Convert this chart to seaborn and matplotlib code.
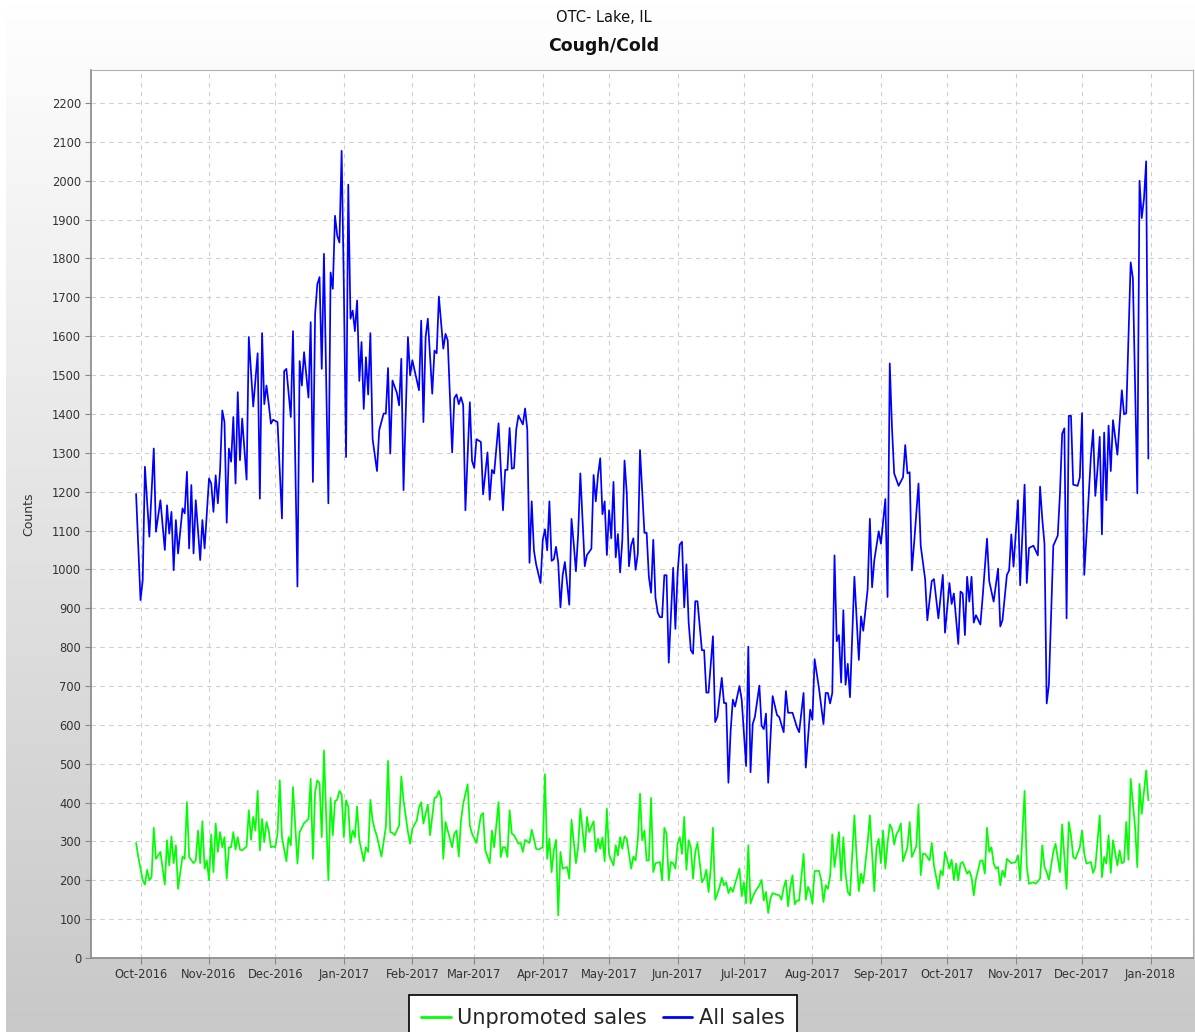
import numpy as np
import pandas as pd
import seaborn as sns
import matplotlib.pyplot as plt
import matplotlib.dates as mdates
from matplotlib.colors import LinearSegmentedColormap

# day offsets from 2016-10-01 and counts
start = pd.Timestamp('2016-10-01')

all_days = [-2, 0, 1, 2, 4, 6, 7, 9, 11, 12, 13, 14, 15, 16, 17, 19, 20, 21, 22, 23,
            24, 25, 27, 28, 29, 31, 32, 33, 34, 35, 36, 37, 38, 39, 40, 41, 42, 43, 44, 45,
            46, 48, 49, 51, 53, 54, 55, 56, 57, 58, 59, 60, 62, 64, 65, 66, 68, 69, 71, 72,
            73, 74, 76, 77, 78, 79, 80, 81, 82, 83, 85, 86, 87, 88, 89, 90, 91, 92, 93, 94,
            95, 96, 97, 98, 99, 100, 101, 102, 103, 104, 105, 107, 108, 110, 111, 112, 113, 114, 116, 117,
            118, 119, 121, 122, 123, 126, 127, 128, 129, 130, 132, 133, 134, 135, 137, 138, 139,
            141, 142, 143, 144, 145, 146, 147, 149, 150, 151, 152, 154, 155, 157, 158, 159, 160, 162, 163, 164,
            165, 166, 167, 168, 169, 170, 171, 173, 174, 175, 176, 177, 178, 179, 181, 182, 183, 184, 185, 186,
            187, 188, 189, 190, 191, 192, 193, 194, 195, 196, 197, 198, 199, 200, 201, 202, 204, 205, 206, 207,
            208, 209, 210, 211, 212, 213, 214, 215, 216, 217, 218, 219, 220, 221, 222, 223, 224, 225, 226, 228,
            229, 230, 231, 232, 233, 234, 235, 236, 237, 238, 239, 241, 242, 243, 244, 245, 246, 247, 248, 249,
            250, 251, 252, 254, 255, 256, 257, 259, 260, 261, 263, 264, 265, 266, 267, 268, 269, 271, 272, 274,
            275, 276, 277, 278, 280, 281, 282, 283, 284, 286, 288, 289,
            291, 292, 293, 295, 297, 298, 300, 301, 303, 304, 305, 307, 309, 310, 311, 312, 313, 314, 315, 316,
            317, 318, 319, 320, 321, 323, 325, 326, 327, 329, 330, 331, 332, 334, 335, 337, 338, 339, 340, 341,
            343, 345, 346, 347, 348, 349, 350, 352, 353, 355, 356, 358, 359, 361, 363, 364, 366, 367, 368, 370,
            371, 372, 373, 374, 375, 376, 377, 378, 380, 381, 383, 384, 386, 388, 389, 390, 392, 393, 394, 395,
            397, 398, 400, 401, 402, 404, 406, 407, 408, 409, 410, 411, 413, 415, 416, 417, 418, 419, 420, 421,
            422, 424, 425, 426, 427, 430, 431, 432, 433, 434, 435, 436, 437, 438, 439, 440, 442, 444, 445, 446,
            448, 449, 451, 452, 453, 454, 455, 456]

all_vals = [1194, 921, 972, 1264, 1084, 1311, 1097, 1178, 1050, 1165, 1092, 1148, 998, 1127, 1041, 1157, 1144, 1251, 1054, 1217,
            1041, 1178, 1024, 1127, 1054, 1234, 1221, 1148, 1242, 1170, 1255, 1409, 1379, 1120, 1311, 1277, 1392, 1221, 1456, 1281,
            1388, 1231, 1598, 1419, 1556, 1182, 1608, 1425, 1473, 1426, 1375, 1385, 1379, 1131, 1510, 1516, 1392, 1613, 956, 1536,
            1473, 1559, 1442, 1636, 1225, 1657, 1734, 1752, 1516, 1812, 1170, 1764, 1722, 1910, 1859, 1841, 2077, 1726, 1289, 1990,
            1645, 1666, 1613, 1692, 1485, 1585, 1413, 1546, 1450, 1608, 1336, 1253, 1358, 1401, 1401, 1518, 1298, 1486, 1454, 1422,
            1542, 1204, 1598, 1499, 1538, 1461, 1640, 1379, 1598, 1645, 1452, 1563, 1556, 1702, 1568, 1606, 1589,
            1301, 1441, 1450, 1425, 1443, 1423, 1152, 1430, 1279, 1261, 1335, 1328, 1193, 1301, 1179, 1256, 1247, 1376, 1261, 1152,
            1256, 1256, 1364, 1259, 1261, 1360, 1396, 1373, 1414, 1360, 1017, 1175, 1049, 1013, 965, 1076, 1103, 1049, 1175, 1022,
            1026, 1058, 1017, 902, 985, 1019, 963, 909, 1130, 1067, 995, 1089, 1247, 1125, 1008, 1037, 1053, 1243, 1175, 1243,
            1286, 1142, 1175, 1037, 1152, 1080, 1225, 1031, 1091, 992, 1076, 1280, 1197, 1008, 1062, 1080, 999, 1040, 1307, 1094,
            1094, 981, 940, 1076, 927, 889, 877, 877, 985, 985, 760, 1004, 847, 990, 1064, 1071, 902, 1013, 864, 792,
            783, 918, 918, 792, 792, 683, 683, 828, 607, 621, 721, 656, 656, 451, 584, 665, 647, 700, 665, 494,
            801, 478, 602, 621, 701, 598, 589, 629, 451, 674, 625, 620,
            581, 687, 631, 631, 594, 581, 682, 490, 639, 613, 769, 693, 602, 682, 682, 655, 682, 1036, 815, 831,
            709, 895, 703, 757, 671, 981, 767, 879, 842, 949, 1130, 954, 1023, 1098, 1066, 1181, 929, 1530, 1365, 1247,
            1215, 1237, 1320, 1247, 1250, 997, 1066, 1221, 1061, 975, 869, 970, 975, 874, 986, 837, 965, 911, 938, 808,
            943, 938, 831, 981, 917, 981, 863, 882, 858, 927, 1079, 970, 917, 1002, 853, 869, 986, 997, 1090, 1007,
            1178, 959, 1218, 965, 1055, 1061, 1036, 1213, 1130, 1066, 655, 703, 1061, 1087, 1194, 1349, 1363, 874, 1395, 1395,
            1218, 1215, 1237, 1402, 986, 1290, 1359, 1189, 1258, 1341, 1090, 1352, 1178, 1370, 1253, 1384, 1295, 1461, 1399, 1402,
            1790, 1749, 1196, 2000, 1904, 1952, 2050, 1285]

unpromoted_days = [-2, -1, 1, 2, 3, 4, 5, 6, 7, 8, 9, 11, 12, 13, 14, 15, 16, 17, 18, 19,
                   20, 21, 22, 24, 25, 26, 27, 28, 29, 30, 31, 32, 33, 34, 35, 36, 37, 38, 39, 40,
                   41, 42, 43, 44, 45, 46, 48, 49, 50, 51, 52, 53, 54, 55, 56, 57, 58, 59, 60, 61,
                   62, 63, 64, 66, 67, 68, 69, 71, 72, 74, 76, 77, 78, 79, 80, 81, 82, 83, 85, 86,
                   87, 88, 89, 90, 91, 92, 93, 94, 95, 96, 97, 98, 99, 101, 102, 103, 104, 105, 106, 107,
                   109, 111, 112, 113, 114, 115, 117, 118, 119, 121, 122, 123, 125, 126, 127, 128, 130, 131, 133, 134,
                   135, 136, 137, 138, 139, 141, 142, 143, 144, 145, 146, 148, 149, 150, 152, 154, 155, 156, 158, 159,
                   160, 162, 163, 164, 165, 166, 167, 168, 169, 171, 172, 173, 174, 176, 177, 178, 179, 180, 182, 183,
                   184, 185, 186, 187, 188, 189, 190, 191, 193, 194, 195, 197, 198, 199, 201, 202, 203, 205, 206, 207,
                   208, 209, 210, 211, 212, 214, 215, 216, 217, 218, 219, 220, 222, 223, 224, 225, 226,
                   227, 228, 229, 230, 231, 232, 233, 235, 236, 237, 238, 239, 240, 241, 242, 243, 244, 245, 246, 247,
                   248, 249, 250, 251, 252, 254, 255, 256, 257, 258, 259, 260, 261, 262, 263, 264, 265, 266, 267, 268,
                   269, 271, 272, 273, 274, 275, 276, 277, 278, 280, 281, 282, 283, 284, 285, 286, 288, 289, 290, 291,
                   292, 293, 294, 295, 296, 297, 298, 300, 301, 302, 303, 304, 305, 307, 308, 309, 310, 311, 312, 313,
                   314, 316, 317, 318, 319, 320, 321, 323, 324, 325, 326, 327, 329, 330, 332, 333, 334, 335, 336, 337,
                   338, 339, 340, 341, 342, 343, 344, 345, 347, 348, 349, 351, 352, 353, 354, 355, 357, 358, 359, 361,
                   362, 363, 364, 366, 367, 368, 369, 370, 371, 372, 374, 375, 376, 377, 378, 380, 381, 382, 383, 384,
                   385, 386, 387, 388, 389, 390, 391, 392, 394, 396, 397, 398, 400, 401, 402, 404, 405, 407, 408, 409,
                   410, 411, 413, 414, 416, 417, 419, 420, 421, 422, 423, 425, 426, 427, 428, 430, 431, 432, 434, 435,
                   436, 437, 438, 439, 440, 442, 443, 444, 445, 446, 447, 448, 450, 451, 452, 453, 455, 456]

unpromoted_vals = [296, 260, 200, 189, 227, 200, 208, 335, 255, 264, 273, 189, 303, 238, 313, 244, 290, 178, 221, 261,
                   255, 401, 260, 244, 251, 328, 244, 352, 230, 251, 200, 318, 221, 346, 273, 324, 285, 311, 204, 285,
                   285, 324, 279, 311, 279, 277, 287, 380, 304, 363, 328, 430, 277, 358, 298, 350, 328, 285, 287, 285,
                   320, 457, 311, 249, 311, 290, 440, 243, 324, 347, 358, 461, 255, 427, 457, 450, 311, 534, 200, 412,
                   316, 404, 407, 430, 421, 311, 406, 390, 296, 328, 311, 390, 303, 249, 285, 273, 407, 354, 330, 313,
                   261, 337, 507, 324, 322, 316, 341, 467, 406, 324, 294, 333, 354, 388, 401, 346, 395, 316, 412, 414,
                   430, 410, 255, 350, 328, 285, 320, 328, 261, 354, 397, 447, 341, 320, 296, 367, 373, 277, 244, 328,
                   285, 401, 260, 285, 285, 260, 380, 320, 316, 294, 296, 273, 304, 296, 330, 307, 281, 279, 285, 473,
                   255, 307, 221, 277, 304, 110, 273, 230, 234, 204, 356, 244, 285, 384, 273, 363, 324, 352, 273, 307,
                   281, 310, 249, 384, 267, 238, 290, 264, 311, 281, 313, 307, 230, 261, 251, 303, 423,
                   303, 328, 251, 251, 412, 221, 244, 247, 200, 335, 320, 200, 247, 244, 230, 294, 311, 268, 363, 227,
                   303, 285, 204, 273, 296, 195, 204, 227, 170, 230, 335, 150, 165, 183, 207, 187, 195, 167, 181, 170,
                   191, 230, 159, 195, 141, 290, 140, 157, 170, 187, 201, 148, 170, 116, 153, 167, 163, 161, 150, 181,
                   200, 133, 183, 213, 138, 148, 148, 268, 150, 183, 170, 140, 224, 224, 200, 144, 187, 178, 210, 318,
                   234, 324, 200, 311, 217, 170, 161, 367, 260, 172, 217, 193, 298, 367, 172, 285, 307, 244, 328, 230,
                   294, 344, 333, 292, 318, 328, 346, 249, 285, 350, 260, 287, 395, 213, 268, 268, 251, 296, 238, 178,
                   225, 213, 273, 230, 253, 201, 243, 200, 243, 247, 217, 224, 208, 161, 204, 251, 251, 217, 335, 273,
                   285, 244, 230, 234, 187, 225, 208, 255, 244, 247, 264, 200, 430, 234, 191, 195, 191, 204, 290, 234,
                   221, 201, 273, 294, 221, 344, 178, 350, 316, 260, 255, 285, 328, 268, 243, 247, 219, 234, 367, 208,
                   260, 243, 316, 219, 303, 238, 277, 244, 247, 350, 253, 461, 337, 234, 448, 371, 483, 406]

assert len(all_days) == len(all_vals)
assert len(unpromoted_days) == len(unpromoted_vals)

month_ticks = pd.date_range('2016-10-01', '2018-01-01', freq='MS')
y_ticks = list(range(0, 2201, 100))

all_df = pd.DataFrame({'Date': start + pd.to_timedelta(all_days, unit='D'), 'Counts': all_vals})
unp_df = pd.DataFrame({'Date': start + pd.to_timedelta(unpromoted_days, unit='D'), 'Counts': unpromoted_vals})

sns.set_theme(style='white')
plt.rcParams['font.family'] = ['DejaVu Sans']

W, H = 1195, 1032
fig = plt.figure(figsize=(W / 100, H / 100), dpi=100)
fig.patch.set_facecolor('white')

# grey gradient background behind the plot (thin white strip on the left)
bg = fig.add_axes([6 / W, 0, 1 - 6 / W, 1], zorder=0)
grad = np.linspace(0, 1, 256).reshape(-1, 1)
bg.imshow(grad, aspect='auto', extent=[0, 1, 0, 1], origin='upper',
          cmap=LinearSegmentedColormap.from_list('bg', ['#ffffff', '#c8c8c8']))
bg.axis('off')

ax = fig.add_axes([91 / W, (H - 958) / H, (1193 - 91) / W, (958 - 70) / H], zorder=1)
ax.set_facecolor('white')

sns.lineplot(data=unp_df, x='Date', y='Counts', color='#00ff00', lw=1.25,
             estimator=None, label='Unpromoted sales', ax=ax)
sns.lineplot(data=all_df, x='Date', y='Counts', color='#0000ff', lw=1.25,
             estimator=None, label='All sales', ax=ax)

ax.set_xlim(start - pd.Timedelta(days=22.4), start + pd.Timedelta(days=476.2))
ax.set_ylim(0, 2285)
ax.set_xticks(month_ticks)
ax.xaxis.set_major_formatter(mdates.DateFormatter('%b-%Y'))
ax.set_yticks(y_ticks)
ax.tick_params(bottom=True, left=True, direction='out', length=4, width=0.8,
               color='#888888', labelsize=8.3, labelcolor='#333333', pad=3)
ax.grid(True, color='#cfcfcf', linestyle=(0, (4, 4)), linewidth=0.8)

for s in ['left', 'bottom']:
    ax.spines[s].set_color('#888888')
    ax.spines[s].set_linewidth(1.2)
for s in ['top', 'right']:
    ax.spines[s].set_color('#b0b0b0')
    ax.spines[s].set_linewidth(0.8)

ax.set_xlabel('')
ax.set_ylabel('Counts', fontsize=9, color='#333333')
ax.yaxis.set_label_coords(-0.051, 0.5)

fig.text(0.505, 1 - 18 / H, 'OTC- Lake, IL', ha='center', va='center', fontsize=10.5, color='#111111')
fig.text(0.505, 1 - 46 / H, 'Cough/Cold', ha='center', va='center', fontsize=12.5,
         fontweight='bold', color='#111111')

handles, labels = ax.get_legend_handles_labels()
ax.get_legend().remove()
leg = fig.legend(handles, labels, loc='upper center', bbox_to_anchor=(603 / W, 1 - 985 / H),
                 ncol=2, frameon=True, fancybox=False, edgecolor='black', facecolor='white',
                 framealpha=1, fontsize=15, handlelength=1.4, handletextpad=0.3,
                 columnspacing=0.8, borderpad=0.6)
leg.get_frame().set_linewidth(1.2)
for line in leg.get_lines():
    line.set_linewidth(2)

fig.savefig('out.png', dpi=100)
